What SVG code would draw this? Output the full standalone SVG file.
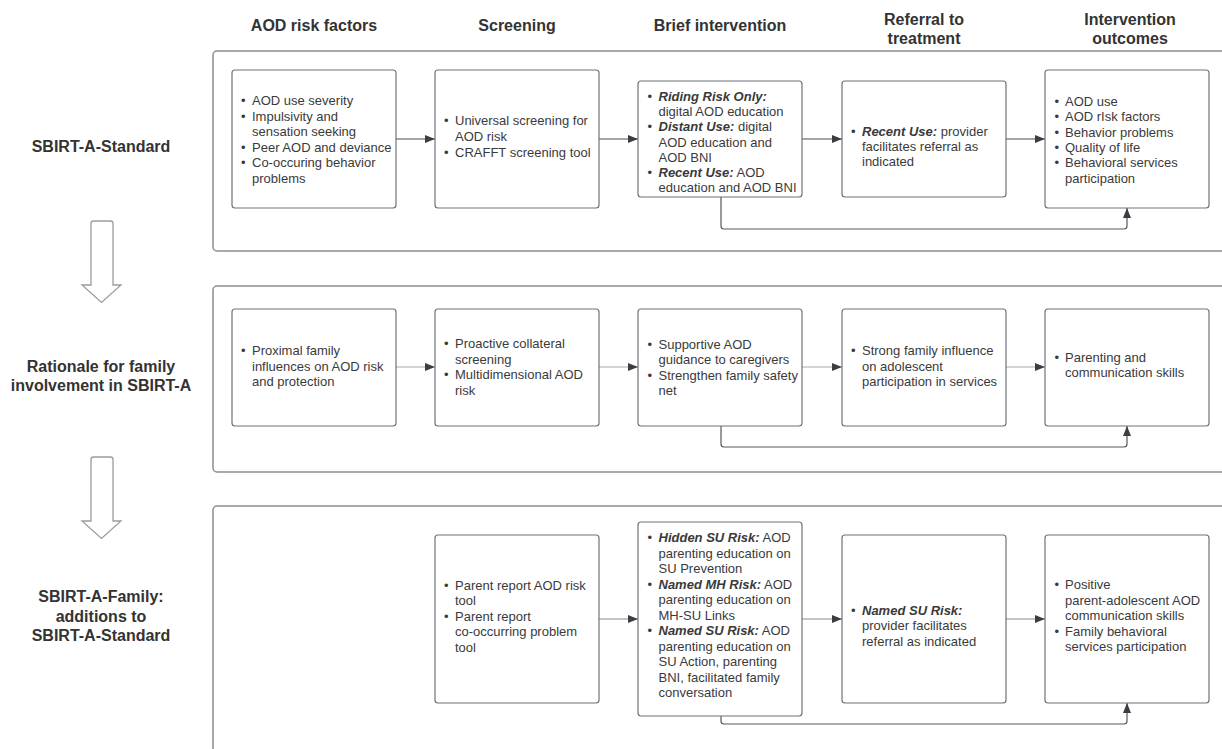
<svg xmlns="http://www.w3.org/2000/svg" width="1222" height="749" viewBox="0 0 1222 749">
<defs>
<marker id="ah" viewBox="0 0 10 8" refX="10" refY="4" markerWidth="10" markerHeight="8" markerUnits="userSpaceOnUse" orient="auto">
<path d="M0 0 L10 4 L0 8 Z" fill="#3a3d44"/>
</marker>
<style>
text{font-family:"Liberation Sans",Arial,sans-serif;fill:#3a3a3a}
.hd{font-size:16px;font-weight:bold;text-anchor:middle;fill:#333}
.lb{font-size:16px;font-weight:bold;text-anchor:middle;fill:#333}
.t{font-size:13px}
.bi{font-weight:bold;font-style:italic}
.frame{fill:#fff;stroke:#8a8d92;stroke-width:1.5}
.box{fill:#fff;stroke:#6f7278;stroke-width:1.2}
.big{fill:#fff;stroke:#9a9ca0;stroke-width:1.3}
.c1{fill:none;stroke:#4a4d54;stroke-width:1.2}
.c2{fill:none;stroke:#a8aaae;stroke-width:1.2}
.c3{fill:none;stroke:#85888d;stroke-width:1.2}
.lp{fill:none;stroke:#55585e;stroke-width:1.2}
</style>
</defs>
<rect width="1222" height="749" fill="#fff"/>

<g id="headers">
<text class="hd" x="314" y="31">AOD risk factors</text>
<text class="hd" x="517" y="31">Screening</text>
<text class="hd" x="720" y="31">Brief intervention</text>
<text class="hd" x="924" y="25">Referral to</text>
<text class="hd" x="924" y="43.5">treatment</text>
<text class="hd" x="1130" y="25">Intervention</text>
<text class="hd" x="1130" y="43.5">outcomes</text>
</g>

<g id="frames">
<rect class="frame" x="213" y="51" width="1030" height="200" rx="4"/>
<rect class="frame" x="213" y="286" width="1030" height="186" rx="4"/>
<rect class="frame" x="213" y="506" width="1030" height="260" rx="4"/>
</g>

<g id="row-labels">
<text class="lb" x="101" y="151.5">SBIRT-A-Standard</text>
<text class="lb" x="101" y="371.5">Rationale for family</text>
<text class="lb" x="101" y="391">involvement in SBIRT-A</text>
<text class="lb" x="101" y="602">SBIRT-A-Family:</text>
<text class="lb" x="101" y="621.5">additions to</text>
<text class="lb" x="101" y="641">SBIRT-A-Standard</text>
</g>

<g id="down-arrow-1">
<path class="big" d="M93.5 221 H110.5 Q113 221 113 223.5 V285 H121 L101.5 302.5 L82 285 H91 V223.5 Q91 221 93.5 221 Z"/>
</g>
<g id="down-arrow-2">
<path class="big" d="M93.5 457 H110.5 Q113 457 113 459.5 V521 H121 L101.5 538.5 L82 521 H91 V459.5 Q91 457 93.5 457 Z"/>
</g>

<g id="connectors">
<line class="c1" x1="396" y1="139" x2="435" y2="139" marker-end="url(#ah)"/>
<line class="c1" x1="599" y1="139" x2="638" y2="139" marker-end="url(#ah)"/>
<line class="c1" x1="802" y1="139" x2="842" y2="139" marker-end="url(#ah)"/>
<line class="c1" x1="1006" y1="139" x2="1045" y2="139" marker-end="url(#ah)"/>
<path class="lp" d="M721 197 V226 Q721 229 724 229 H1124 Q1127 229 1127 226 V208" marker-end="url(#ah)"/>

<line class="c2" x1="396" y1="367" x2="435" y2="367" marker-end="url(#ah)"/>
<line class="c2" x1="599" y1="367" x2="638" y2="367" marker-end="url(#ah)"/>
<line class="c2" x1="802" y1="367" x2="842" y2="367" marker-end="url(#ah)"/>
<line class="c2" x1="1006" y1="367" x2="1045" y2="367" marker-end="url(#ah)"/>
<path class="lp" d="M721 426 V444 Q721 447 724 447 H1124 Q1127 447 1127 444 V426" marker-end="url(#ah)"/>

<line class="c3" x1="599" y1="619" x2="638" y2="619" marker-end="url(#ah)"/>
<line class="c3" x1="802" y1="619" x2="842" y2="619" marker-end="url(#ah)"/>
<line class="c3" x1="1006" y1="619" x2="1045" y2="619" marker-end="url(#ah)"/>
<path class="lp" d="M721 716 V721 Q721 724 724 724 H1124 Q1127 724 1127 721 V703" marker-end="url(#ah)"/>
</g>

<!-- Row 1 -->
<g id="r1-risk">
<rect class="box" x="232" y="70" width="164" height="138" rx="3"/>
<text class="t" x="241" y="105">•</text><text class="t" x="252" y="105">AOD use severity</text>
<text class="t" x="241" y="120.5">•</text><text class="t" x="252" y="120.5">Impulsivity and</text>
<text class="t" x="252" y="136">sensation seeking</text>
<text class="t" x="241" y="151.8">•</text><text class="t" x="252" y="151.8">Peer AOD and deviance</text>
<text class="t" x="241" y="167.2">•</text><text class="t" x="252" y="167.2">Co-occuring behavior</text>
<text class="t" x="252" y="182.8">problems</text>
</g>
<g id="r1-screening">
<rect class="box" x="435" y="70" width="164" height="138" rx="3"/>
<text class="t" x="444" y="125.2">•</text><text class="t" x="455" y="125.2">Universal screening for</text>
<text class="t" x="455" y="141.2">AOD risk</text>
<text class="t" x="444" y="156.8">•</text><text class="t" x="455" y="156.8">CRAFFT screening tool</text>
</g>
<g id="r1-brief">
<rect class="box" x="638" y="81" width="164" height="116" rx="3"/>
<text class="t" x="647.5" y="101">•</text><text class="t" x="658.5" y="101"><tspan class="bi">Riding Risk Only:</tspan></text>
<text class="t" x="658.5" y="116.2">digital AOD education</text>
<text class="t" x="647.5" y="131.4">•</text><text class="t" x="658.5" y="131.4"><tspan class="bi">Distant Use:</tspan> digital</text>
<text class="t" x="658.5" y="146.6">AOD education and</text>
<text class="t" x="658.5" y="161.8">AOD BNI</text>
<text class="t" x="647.5" y="177">•</text><text class="t" x="658.5" y="177"><tspan class="bi">Recent Use:</tspan> AOD</text>
<text class="t" x="658.5" y="192.2">education and AOD BNI</text>
</g>
<g id="r1-referral">
<rect class="box" x="842" y="81" width="164" height="116" rx="3"/>
<text class="t" x="851" y="135.5">•</text><text class="t" x="862" y="135.5"><tspan class="bi">Recent Use:</tspan> provider</text>
<text class="t" x="862" y="150.8">facilitates referral as</text>
<text class="t" x="862" y="166.2">indicated</text>
</g>
<g id="r1-outcomes">
<rect class="box" x="1045" y="70" width="164" height="138" rx="3"/>
<text class="t" x="1054.5" y="105.5">•</text><text class="t" x="1065" y="105.5">AOD use</text>
<text class="t" x="1054.5" y="121">•</text><text class="t" x="1065" y="121">AOD rIsk factors</text>
<text class="t" x="1054.5" y="136.5">•</text><text class="t" x="1065" y="136.5">Behavior problems</text>
<text class="t" x="1054.5" y="151.8">•</text><text class="t" x="1065" y="151.8">Quality of life</text>
<text class="t" x="1054.5" y="167.2">•</text><text class="t" x="1065" y="167.2">Behavioral services</text>
<text class="t" x="1065" y="182.5">participation</text>
</g>

<!-- Row 2 -->
<g id="r2-risk">
<rect class="box" x="232" y="309" width="164" height="117" rx="3"/>
<text class="t" x="241" y="354.5">•</text><text class="t" x="252" y="354.5">Proximal family</text>
<text class="t" x="252" y="370.5">influences on AOD risk</text>
<text class="t" x="252" y="386.2">and protection</text>
</g>
<g id="r2-screening">
<rect class="box" x="435" y="309" width="164" height="117" rx="3"/>
<text class="t" x="444" y="347.8">•</text><text class="t" x="455" y="347.8">Proactive collateral</text>
<text class="t" x="455" y="363.5">screening</text>
<text class="t" x="444" y="378.8">•</text><text class="t" x="455" y="378.8">Multidimensional AOD</text>
<text class="t" x="455" y="394.5">risk</text>
</g>
<g id="r2-brief">
<rect class="box" x="638" y="309" width="164" height="117" rx="3"/>
<text class="t" x="647.5" y="348.5">•</text><text class="t" x="658.5" y="348.5">Supportive AOD</text>
<text class="t" x="658.5" y="363.8">guidance to caregivers</text>
<text class="t" x="647.5" y="379.5">•</text><text class="t" x="658.5" y="379.5">Strengthen family safety</text>
<text class="t" x="658.5" y="394.5">net</text>
</g>
<g id="r2-referral">
<rect class="box" x="842" y="309" width="164" height="117" rx="3"/>
<text class="t" x="851" y="355.2">•</text><text class="t" x="862" y="355.2">Strong family influence</text>
<text class="t" x="862" y="370.5">on adolescent</text>
<text class="t" x="862" y="385.5">participation in services</text>
</g>
<g id="r2-outcomes">
<rect class="box" x="1045" y="309" width="164" height="117" rx="3"/>
<text class="t" x="1054.5" y="361.8">•</text><text class="t" x="1065" y="361.8">Parenting and</text>
<text class="t" x="1065" y="377.2">communication skills</text>
</g>

<!-- Row 3 -->
<g id="r3-screening">
<rect class="box" x="435" y="535" width="164" height="168" rx="3"/>
<text class="t" x="444" y="589.5">•</text><text class="t" x="455" y="589.5">Parent report AOD risk</text>
<text class="t" x="455" y="605.2">tool</text>
<text class="t" x="444" y="620.5">•</text><text class="t" x="455" y="620.5">Parent report</text>
<text class="t" x="455" y="636.2">co-occurring problem</text>
<text class="t" x="455" y="651.5">tool</text>
</g>
<g id="r3-brief">
<rect class="box" x="638" y="522" width="164" height="194" rx="3"/>
<text class="t" x="647.5" y="542.2">•</text><text class="t" x="658.5" y="542.2"><tspan class="bi">Hidden SU Risk:</tspan> AOD</text>
<text class="t" x="658.5" y="557.7">parenting education on</text>
<text class="t" x="658.5" y="573.2">SU Prevention</text>
<text class="t" x="647.5" y="588.7">•</text><text class="t" x="658.5" y="588.7"><tspan class="bi">Named MH Risk:</tspan> AOD</text>
<text class="t" x="658.5" y="604.2">parenting education on</text>
<text class="t" x="658.5" y="619.7">MH-SU Links</text>
<text class="t" x="647.5" y="635.2">•</text><text class="t" x="658.5" y="635.2"><tspan class="bi">Named SU Risk:</tspan> AOD</text>
<text class="t" x="658.5" y="650.7">parenting education on</text>
<text class="t" x="658.5" y="666.2">SU Action, parenting</text>
<text class="t" x="658.5" y="681.7">BNI, facilitated family</text>
<text class="t" x="658.5" y="697.2">conversation</text>
</g>
<g id="r3-referral">
<rect class="box" x="842" y="535" width="164" height="168" rx="3"/>
<text class="t" x="851" y="614.8">•</text><text class="t" x="862" y="614.8"><tspan class="bi">Named SU Risk:</tspan></text>
<text class="t" x="862" y="630.3">provider facilitates</text>
<text class="t" x="862" y="645.8">referral as indicated</text>
</g>
<g id="r3-outcomes">
<rect class="box" x="1045" y="535" width="164" height="168" rx="3"/>
<text class="t" x="1054.5" y="589.2">•</text><text class="t" x="1065" y="589.2">Positive</text>
<text class="t" x="1065" y="604.7">parent-adolescent AOD</text>
<text class="t" x="1065" y="620.2">communication skills</text>
<text class="t" x="1054.5" y="635.7">•</text><text class="t" x="1065" y="635.7">Family behavioral</text>
<text class="t" x="1065" y="651.2">services participation</text>
</g>
</svg>
